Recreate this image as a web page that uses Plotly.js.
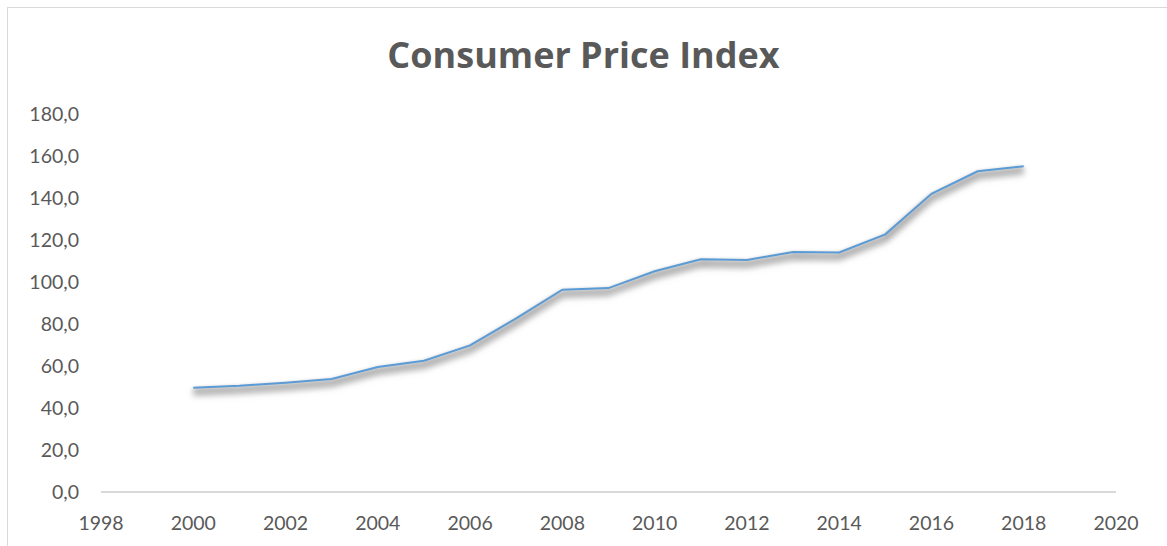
<!DOCTYPE html>
<html>
<head>
<meta charset="utf-8">
<script src="https://cdn.plot.ly/plotly-3.0.1.min.js"></script>
<style>
  html, body { margin: 0; padding: 0; background: #fff; overflow: hidden; }
  #wrap { position: relative; width: 1167px; height: 546px; }
  #chart { width: 1167px; height: 546px; }
  #frame { position: absolute; left: 7px; top: 7px; width: 1300px; height: 700px;
           border: 1.5px solid #d9d9d9; pointer-events: none; box-sizing: border-box; }
  .scatterlayer .js-line { filter: drop-shadow(0px 5px 3px rgba(0,0,0,0.75)) drop-shadow(0px 2px 2px rgba(0,0,0,0.3)); }
</style>
</head>
<body>
<div id="wrap">
  <div id="chart"></div>
  <div id="frame"></div>
</div>
<script>
const years = [2000, 2001, 2002, 2003, 2004, 2005, 2006, 2007, 2008, 2009,
               2010, 2011, 2012, 2013, 2014, 2015, 2016, 2017, 2018];
const cpi = [49.7, 50.6, 52.0, 53.8, 59.5, 62.5, 69.8, 82.7, 96.3, 97.1,
             105.1, 110.8, 110.5, 114.3, 114.1, 122.7, 142.0, 152.7, 155.1];
const titleText = "Consumer Price Index";

const font = "Lato, 'Open Sans', sans-serif";
const trace = {
  x: years, y: cpi, type: "scatter", mode: "lines",
  line: { color: "#5b9bd5", width: 2 }, hoverinfo: "x+y"
};
const layout = {
  width: 1167, height: 546,
  paper_bgcolor: "#ffffff", plot_bgcolor: "#ffffff",
  margin: { l: 101, r: 51, t: 114, b: 54 },
  separators: ", ",
  showlegend: false,
  title: {
    text: "<b>" + titleText + "</b>",
    font: { family: "'Open Sans', sans-serif", size: 36, color: "#595959" },
    x: 0.5, xref: "container", xanchor: "center",
    y: 1 - 55/546, yref: "container", yanchor: "middle"
  },
  xaxis: {
    range: [1998, 2020], dtick: 2, tick0: 1998,
    showgrid: false, zeroline: false,
    showline: false, ticks: "",
    tickfont: { family: font, size: 19.5, color: "#595959" },
    ticklabelstandoff: 17
  },
  yaxis: {
    range: [0, 180], dtick: 20, tick0: 0, tickformat: ".1f",
    showgrid: false, zeroline: true, zerolinecolor: "#d9d9d9", zerolinewidth: 1.5,
    showline: false, ticks: "",
    tickfont: { family: font, size: 19.5, color: "#595959" },
    ticklabelstandoff: 21
  }
};
Plotly.newPlot("chart", [trace], layout, { displayModeBar: false, staticPlot: true });
</script>
</body>
</html>
